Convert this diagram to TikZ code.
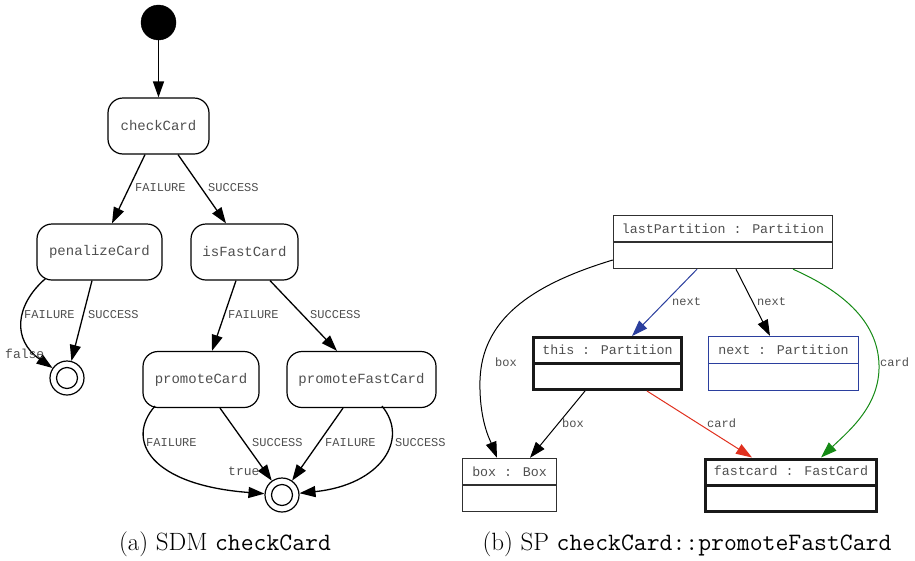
\documentclass[tikz,border=0pt]{standalone}
\usepackage{fontspec}
\newfontfamily\gvfont{Liberation Mono}
\usetikzlibrary{arrows.meta,calc}
\definecolor{txtgray}{HTML}{4F4F4F}
\definecolor{boxgray}{HTML}{303030}
\definecolor{nextblue}{HTML}{2B3F9E}
\definecolor{cardred}{HTML}{E0301E}
\definecolor{cardgreen}{HTML}{158A15}

\begin{document}
\begin{tikzpicture}[x=1pt,y=-1pt,
  state/.style={draw, rounded corners=15pt, line width=1.2pt, inner sep=0pt,
    minimum height=56pt, text=txtgray, font=\gvfont\fontsize{14}{16}\selectfont},
  initial/.style={circle, draw, fill=black, minimum size=35pt, inner sep=0pt},
  final/.style={circle, draw, line width=1.2pt, minimum size=34pt, inner sep=0pt},
  finalin/.style={circle, draw, line width=1.2pt, minimum size=21pt, inner sep=0pt},
  flow/.style={line width=1.3pt, -{Triangle[length=16pt,width=11pt]}},
  lbl/.style={anchor=west, inner sep=0pt, text=txtgray, font=\gvfont\fontsize{12}{14}\selectfont},
  endlbl/.style={anchor=west, inner sep=0pt, text=txtgray, font=\gvfont\fontsize{13}{15}\selectfont},
  cls/.style={draw=boxgray, line width=1.4pt, inner sep=0pt},
  clsbold/.style={draw=black!90, line width=3pt, inner sep=0pt},
  clsblue/.style={draw=nextblue, line width=1.2pt, inner sep=0pt},
  clstext/.style={inner sep=0pt, text=txtgray, font=\gvfont\fontsize{13.3}{15}\selectfont},
  caption/.style={inner sep=0pt, font=\fontsize{25}{29}\selectfont}
]
\useasboundingbox (0,0) rectangle (915,560);

% ---------- (a) activity diagram ----------
\node[initial] (init) at (158.5,22.5) {};
\node[state, minimum width=101pt] (cc) at (158.5,126) {checkCard};
\node[state, minimum width=125pt] (pc) at (99.5,252) {penalizeCard};
\node[state, minimum width=107pt] (fc) at (244.5,252) {isFastCard};
\node[state, minimum width=116pt] (prc) at (201,379.5) {promoteCard};
\node[state, minimum width=149pt] (pfc) at (361.5,379.5) {promoteFastCard};
\node[final] (f1) at (67,378) {};
\node[finalin] (f1i) at (f1) {};
\node[final] (f2) at (282,495) {};
\node[finalin] (f2i) at (f2) {};

\draw[flow] (init) -- (cc);
\draw[flow] ([xshift=-13.5pt]cc.south) -- ([xshift=12.5pt]pc.north);
\draw[flow] ([xshift=19.5pt]cc.south) -- ([xshift=-18.5pt]fc.north);
\draw[flow] ([xshift=-54pt,yshift=2pt]pc.south) .. controls (15,305) and (12,340) .. (f1);
\draw[flow] ([xshift=-7.5pt]pc.south) -- (f1);
\draw[flow] ([xshift=-8.5pt]fc.south) -- ([xshift=11pt]prc.north);
\draw[flow] ([xshift=25.5pt]fc.south) -- ([xshift=-24.5pt]pfc.north);
\draw[flow] ([xshift=-46pt,yshift=2pt]prc.south) .. controls (125,440) and (150,485) .. (f2);
\draw[flow] ([xshift=19pt]prc.south) -- (f2);
\draw[flow] ([xshift=-18.5pt]pfc.south) -- (f2);
\draw[flow] ([xshift=20.5pt,yshift=2pt]pfc.south) .. controls (410,440) and (380,485) .. (f2);

\node[lbl] (l1) at (135,188) {FAILURE};
\node[lbl] (l2) at (208,188) {SUCCESS};
\node[lbl] (l3) at (24,315) {FAILURE};
\node[lbl] (l4) at (88,315) {SUCCESS};
\node[lbl] (l5) at (228,315) {FAILURE};
\node[lbl] (l6) at (310,315) {SUCCESS};
\node[lbl] (l7) at (146,443) {FAILURE};
\node[lbl] (l8) at (252,443) {SUCCESS};
\node[lbl] (l9) at (325,443) {FAILURE};
\node[lbl] (l10) at (395,443) {SUCCESS};
\node[endlbl] (lfalse) at (5,354) {false};
\node[endlbl] (ltrue) at (228,471) {true};

\node[caption] (capa) at (225,544) {(a) SDM \texttt{checkCard}};

% ---------- (b) story pattern ----------
\node[cls, minimum width=219pt, minimum height=53pt] (lp) at (723,242) {};
\draw[draw=boxgray, line width=1.4pt] (lp.west) -- (lp.east);
\node[clstext] (lpt) at ($(lp.north)!0.5!(lp.center)$) {lastPartition : Partition};

\node[clsbold, minimum width=148pt, minimum height=52pt] (th) at (607.5,363.5) {};
\draw[black!90, line width=3pt] (th.west) -- (th.east);
\node[clstext] (tht) at ($(th.north)!0.5!(th.center)$) {this : Partition};

\node[clsblue, minimum width=150pt, minimum height=54pt] (nx) at (783.5,363.5) {};
\draw[nextblue, line width=1.2pt] (nx.west) -- (nx.east);
\node[clstext] (nxt) at ($(nx.north)!0.5!(nx.center)$) {next : Partition};

\node[cls, minimum width=94pt, minimum height=53pt] (bx) at (509.5,485) {};
\draw[draw=boxgray, line width=1.4pt] (bx.west) -- (bx.east);
\node[clstext] (bxt) at ($(bx.north)!0.5!(bx.center)$) {box : Box};

\node[clsbold, minimum width=171pt, minimum height=52pt] (fcard) at (791,485) {};
\draw[black!90, line width=3pt] (fcard.west) -- (fcard.east);
\node[clstext] (fcardt) at ($(fcard.north)!0.5!(fcard.center)$) {fastcard : FastCard};

\draw[flow, nextblue, line width=1pt] ([xshift=-26pt]lp.south) -- ([xshift=24.5pt]th.north);
\draw[flow, line width=1pt] ([xshift=13pt]lp.south) -- ([xshift=-13.5pt]nx.north);
\draw[flow, line width=1pt] ([yshift=-18pt]lp.west) .. controls (530,285) and (482,320) .. (480,380)
  .. controls (479,420) and (490,440) .. ([xshift=-12.5pt]bx.north);
\draw[flow, cardgreen, line width=1pt] ([xshift=70pt]lp.south) .. controls (840,290) and (878,320) .. (879,365)
  .. controls (880,405) and (850,430) .. ([xshift=30pt]fcard.north);
\draw[flow, line width=1pt] ([xshift=-22.5pt]th.south) -- ([xshift=20.5pt]bx.north);
\draw[flow, cardred, line width=1pt] ([xshift=39.5pt]th.south) -- ([xshift=-39pt]fcard.north);

\node[lbl] (lb1) at (672,302) {next};
\node[lbl] (lb2) at (757,302) {next};
\node[lbl] (lb3) at (495,362) {box};
\node[lbl] (lb4) at (880,362) {card};
\node[lbl] (lb5) at (562,423) {box};
\node[lbl] (lb6) at (707,423) {card};

\node[caption] (capb) at (687,544) {(b) SP \texttt{checkCard::promoteFastCard}};
\end{tikzpicture}
\end{document}
